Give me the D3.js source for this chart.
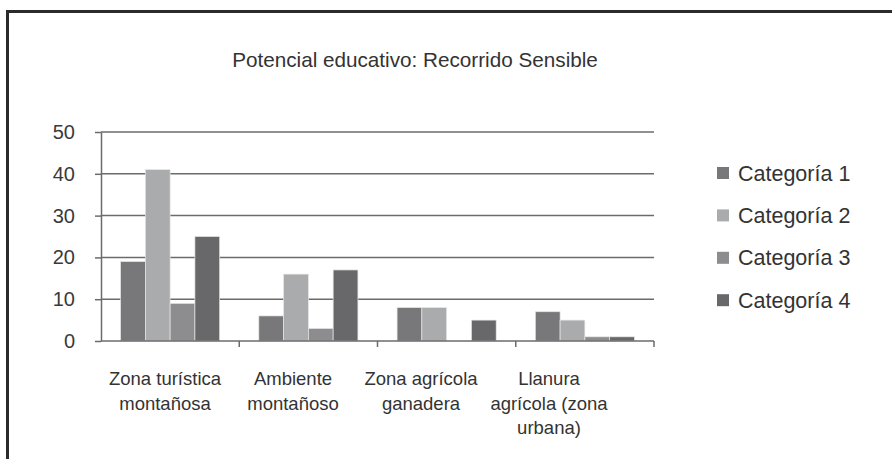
<!DOCTYPE html>
<html>
<head>
<meta charset="utf-8">
<script src="https://cdn.jsdelivr.net/npm/d3@7"></script>
<style>
	body { margin: 0; background: #fff; }
	svg { display: block; font-family: "Liberation Sans", Arial, sans-serif; }
</style>
</head>
<body>
<svg id="chart" width="892" height="459"></svg>
<script>
let categories = ["Zona turística montañosa", "Ambiente montañoso", "Zona agrícola ganadera", "Llanura agrícola (zona urbana)"];
let catLines = [["Zona turística", "montañosa"], ["Ambiente", "montañoso"], ["Zona agrícola", "ganadera"], ["Llanura", "agrícola (zona", "urbana)"]];
let series = ["Categoría 1", "Categoría 2", "Categoría 3", "Categoría 4"];
let cat1 = [19, 6, 8, 7];
let cat2 = [41, 16, 8, 5];
let cat3 = [9, 3, 0, 1];
let cat4 = [25, 17, 5, 1];
let yTicks = [0, 10, 20, 30, 40, 50];
let colors = ["#78787a", "#aaabad", "#8d8d8f", "#68686a"];

let values = [cat1, cat2, cat3, cat4];
let data = categories.map((c, ci) => ({cat: c, vals: series.map((s, si) => ({s: s, v: values[si][ci]}))}));

let width = 892, height = 459;
let margin = {top: 132, right: 238, bottom: 118, left: 101};

let svg = d3.select("#chart");

// frame
svg.append("rect")
	.attr("x", 7.5)
	.attr("y", 11.5)
	.attr("width", width + 10)
	.attr("height", height + 10)
	.attr("fill", "none")
	.attr("stroke", "#2b2b2b")
	.attr("stroke-width", 3);

let x = d3.scaleBand()
	.domain(categories)
	.range([margin.left, width - margin.right])
	.padding(0);
let xs = d3.scaleBand()
	.domain(series)
	.range([0, x.bandwidth()])
	.paddingInner(0)
	.paddingOuter(0.79);
let y = d3.scaleLinear()
	.domain([0, 50])
	.range([height - margin.bottom, margin.top]);

// gridlines
svg.append("g")
	.selectAll("line")
	.data(yTicks.slice(1))
	.join("line")
	.attr("x1", margin.left)
	.attr("x2", width - margin.right)
	.attr("y1", d => y(d))
	.attr("y2", d => y(d))
	.attr("stroke", "#6b6b6b")
	.attr("stroke-width", 1.5);

// bars
svg.append("g")
	.selectAll("g")
	.data(data)
	.join("g")
	.attr("transform", d => `translate(${x(d.cat)},0)`)
	.selectAll("rect")
	.data(d => d.vals.filter(e => e.v > 0))
	.join("rect")
	.attr("x", d => xs(d.s))
	.attr("y", d => y(d.v))
	.attr("width", xs.bandwidth())
	.attr("height", d => y(0) - y(d.v))
	.attr("fill", d => colors[series.indexOf(d.s)])
	.attr("stroke", "#e6e6e6")
	.attr("stroke-width", 0.7);

// y axis
let yAxis = svg.append("g")
	.attr("transform", `translate(${margin.left},0)`)
	.call(d3.axisLeft(y).tickValues(yTicks).tickSize(6).tickPadding(20).tickSizeOuter(0));
yAxis.select(".domain").attr("stroke", "#6b6b6b").attr("stroke-width", 1.5);
yAxis.selectAll(".tick line").attr("stroke", "#6b6b6b").attr("stroke-width", 1.5);
yAxis.selectAll(".tick text")
	.attr("fill", "#3a3a3a")
	.attr("font-size", 20)
	.attr("font-family", "Liberation Sans, Arial, sans-serif");

// x axis
let xAxis = svg.append("g")
	.attr("transform", `translate(0,${y(0)})`);
xAxis.append("line")
	.attr("x1", margin.left)
	.attr("x2", width - margin.right)
	.attr("stroke", "#6b6b6b")
	.attr("stroke-width", 1.5);
let bounds = categories.map(c => x(c)).concat([x.range()[1]]);
xAxis.selectAll(".tk")
	.data(bounds.slice(1))
	.join("line")
	.attr("class", "tk")
	.attr("x1", d => d)
	.attr("x2", d => d)
	.attr("y1", 0)
	.attr("y2", 6)
	.attr("stroke", "#6b6b6b")
	.attr("stroke-width", 1.5);

// category labels (sit slightly left of band centres in the original)
let xl = d3.scalePoint()
	.domain(categories)
	.range([165, 549]);
svg.append("g")
	.selectAll("text")
	.data(categories)
	.join("text")
	.attr("x", d => xl(d))
	.attr("y", 385)
	.attr("text-anchor", "middle")
	.attr("font-size", 18.5)
	.attr("fill", "#333")
	.selectAll("tspan")
	.data((d, i) => catLines[i])
	.join("tspan")
	.attr("x", function() { return this.parentNode.getAttribute("x"); })
	.attr("dy", (d, i) => i == 0 ? 0 : 24.5)
	.text(d => d);

// title
svg.append("text")
	.attr("x", 415)
	.attr("y", 67)
	.attr("text-anchor", "middle")
	.attr("font-size", 20.7)
	.attr("fill", "#333")
	.text("Potencial educativo: Recorrido Sensible");

// legend
let legend = svg.append("g")
	.attr("transform", "translate(717,173)")
	.selectAll("g")
	.data(series)
	.join("g")
	.attr("transform", (d, i) => `translate(0,${i * 42.4})`);
legend.append("rect")
	.attr("x", 0)
	.attr("y", -6)
	.attr("width", 12)
	.attr("height", 12)
	.attr("fill", (d, i) => colors[i]);
legend.append("text")
	.attr("x", 21)
	.attr("y", 0)
	.attr("dy", "0.35em")
	.attr("font-size", 21.5)
	.attr("fill", "#333")
	.text(d => d);
</script>
</body>
</html>
